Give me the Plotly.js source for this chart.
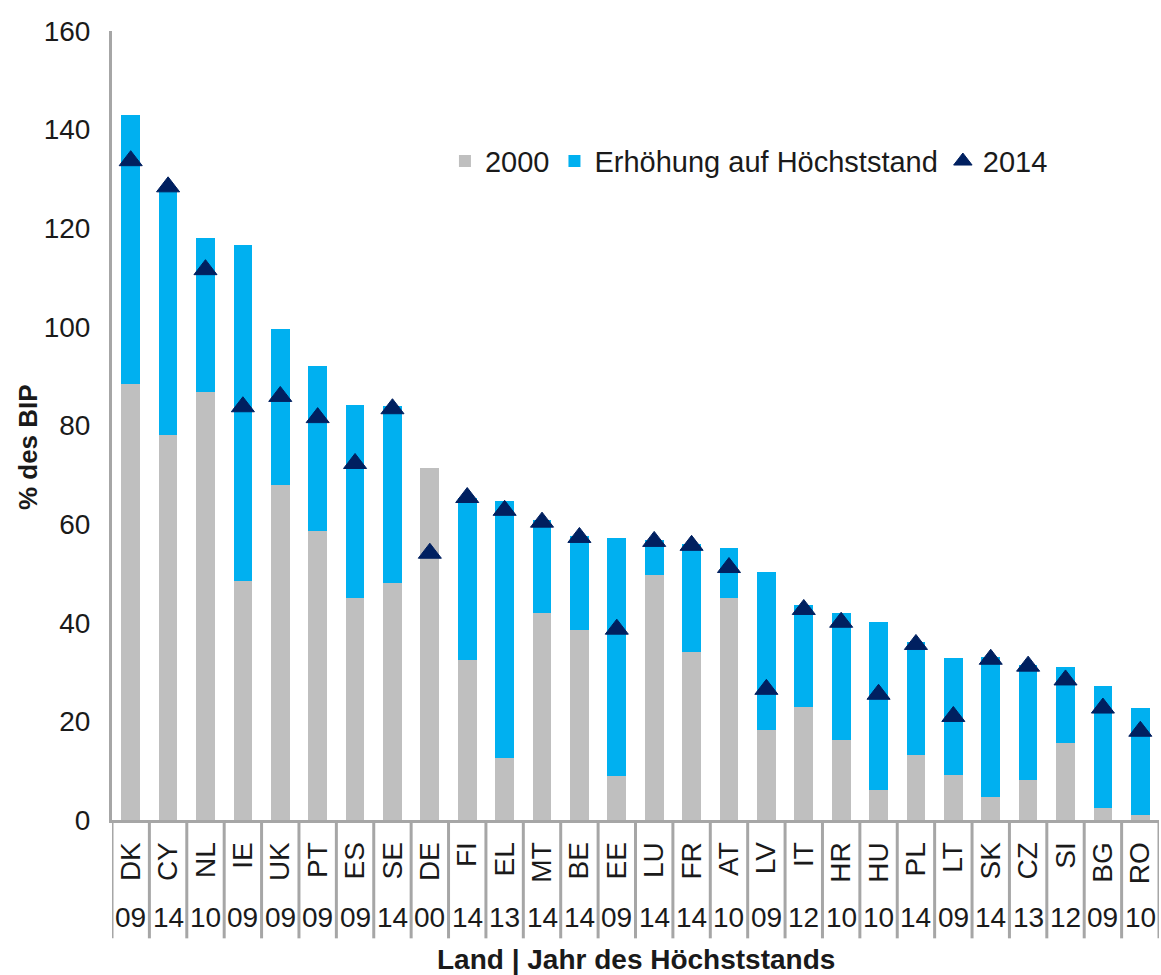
<!DOCTYPE html>
<html>
<head>
<meta charset="utf-8">
<script src="https://cdn.plot.ly/plotly-3.0.1.min.js"></script>
<style>html,body{margin:0;padding:0;background:#fff;}#chart{width:1161px;height:975px;}</style>
</head>
<body>
<div id="chart"></div>
<script>
const countries = ['DK','CY','NL','IE','UK','PT','ES','SE','DE','FI','EL','MT','BE','EE','LU','FR','AT','LV','IT','HR','HU','PL','LT','SK','CZ','SI','BG','RO'];
const peakYears = ['09','14','10','09','09','09','09','14','00','14','13','14','14','09','14','14','10','09','12','10','10','14','09','14','13','12','09','10'];
const val2000 = [88.5, 78, 86.7, 48.4, 68, 58.7, 45, 48, 71.3, 32.4, 12.6, 41.9, 38.5, 8.9, 49.6, 34, 45, 18.2, 22.9, 16.2, 6, 13.2, 9.1, 4.7, 8.1, 15.6, 2.4, 1];
const increaseToPeak = [54.5, 50, 31.3, 68.2, 31.6, 33.3, 39.2, 36, 0, 33, 52, 19, 19, 48.2, 7.2, 22, 10.1, 32, 20.6, 25.8, 34.1, 22.8, 23.7, 28.3, 23.4, 15.4, 24.7, 21.7];
const val2014 = [133.7, 128.4, 111.6, 83.8, 85.9, 81.6, 72.3, 83.4, 54.1, 65.4, 62.8, 60.4, 57.3, 38.7, 56.5, 55.7, 51.2, 26.5, 42.7, 40.1, 25.5, 35.6, 21, 32.6, 31.2, 28.4, 22.7, 18];
const seriesNames = ['2000', 'Erhöhung auf Höchststand', '2014'];
const yTitle = '% des BIP';
const xTitle = 'Land | Jahr des Höchststands';

const FONT = 'Liberation Sans, Arial, sans-serif';
const TXT = '#1a1a1a';
const AXIS = '#a6a6a6';

const traces = [
  {type:'bar', name:seriesNames[0], x:countries, y:val2000, marker:{color:'#bfbfbf'}, width:0.5, hoverinfo:'y'},
  {type:'bar', name:seriesNames[1], x:countries, y:increaseToPeak, marker:{color:'#00b0f0'}, width:0.5, hoverinfo:'y'},
  {type:'scatter', mode:'markers', name:seriesNames[2], x:countries, y:val2014,
   marker:{symbol:'triangle-up', size:20, color:'#002060', line:{color:'#002060', width:1}}, hoverinfo:'y'}
];

const bottomY = -0.15;
const shapes = [];
for (let i = 0; i <= countries.length; i++) {
  shapes.push({type:'line', xref:'x', yref:'paper', x0:i-0.5, x1:i-0.5, y0:0, y1:bottomY,
    line:{color:AXIS, width:3}});
}

const annotations = countries.map((c, i) => ({
  xref:'x', yref:'paper', x:c, y:-0.123, text:peakYears[i], showarrow:false,
  xanchor:'center', yanchor:'middle', font:{family:FONT, size:28, color:TXT}
}));
annotations.push({xref:'paper', yref:'paper', x:0.5, y:-0.1774, text:'<b>'+xTitle+'</b>', showarrow:false,
  xanchor:'center', yanchor:'middle', font:{family:FONT, size:28, color:TXT}});
annotations.push({xref:'paper', yref:'paper', x:-0.0802, y:0.4727, text:'<b>'+yTitle+'</b>', showarrow:false,
  textangle:-90, xanchor:'center', yanchor:'middle', font:{family:FONT, size:26, color:TXT}});

const layout = {
  width:1161, height:975,
  margin:{l:112, r:2, t:31, b:155},
  paper_bgcolor:'#fff', plot_bgcolor:'#fff',
  barmode:'stack',
  font:{family:FONT, size:28, color:TXT},
  showlegend:true,
  legend:{orientation:'h', x:0.318, xanchor:'left', y:0.835, yanchor:'middle',
    font:{family:FONT, size:29, color:TXT}, bgcolor:'rgba(0,0,0,0)', itemwidth:30, traceorder:'normal'},
  xaxis:{type:'category', range:[-0.5, countries.length-0.5], showline:true, linecolor:AXIS, linewidth:3,
    ticks:'', tickangle:-90, tickfont:{family:FONT, size:28, color:TXT}, showgrid:false, zeroline:false,
    ticklabelstandoff:8, automargin:false, fixedrange:true},
  yaxis:{range:[0,160], dtick:20, showline:true, linecolor:AXIS, linewidth:3, ticks:'', showgrid:false,
    zeroline:false, tickfont:{family:FONT, size:28, color:TXT}, ticklabelstandoff:13, automargin:false, fixedrange:true},
  shapes:shapes,
  annotations:annotations
};

Plotly.newPlot('chart', traces, layout, {displayModeBar:false, staticPlot:true});
</script>
</body>
</html>
